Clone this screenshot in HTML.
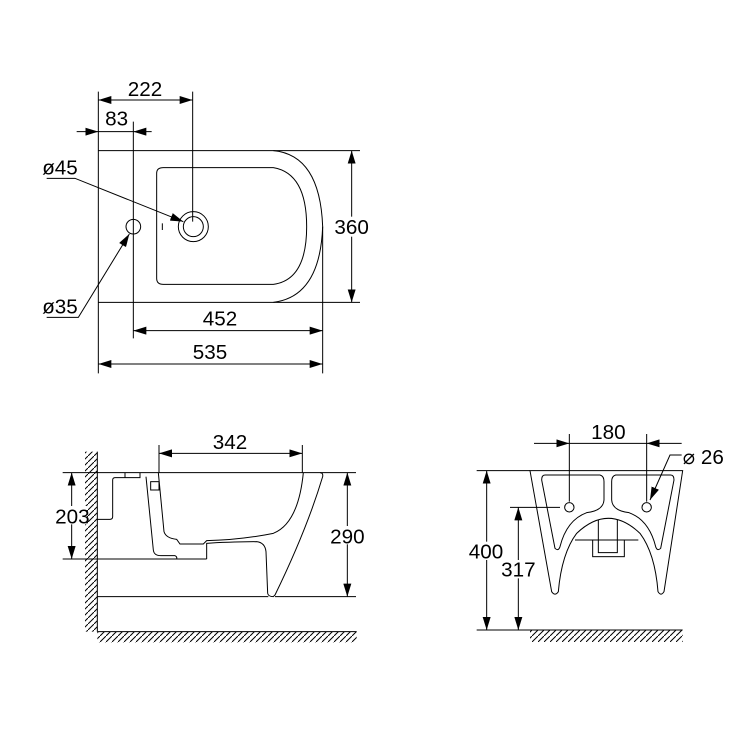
<!DOCTYPE html>
<html><head><meta charset="utf-8"><style>
html,body{margin:0;padding:0;background:#fff;}
svg{display:block}
text{font-family:"Liberation Sans Narrow","Liberation Sans",sans-serif;fill:#000;text-anchor:middle}
</style></head><body>
<svg width="750" height="750" viewBox="0 0 750 750" xmlns="http://www.w3.org/2000/svg">
<defs>
<marker id="a" viewBox="0 0 13 8" refX="13" refY="4" markerWidth="13" markerHeight="8" markerUnits="strokeWidth" orient="auto-start-reverse">
<path d="M0,0 L13,4 L0,8 z" fill="#000"/></marker>
<pattern id="hw" width="18" height="18" patternUnits="userSpaceOnUse">
<line x1="0" y1="18" x2="18" y2="0" stroke="#000" stroke-width="3"/></pattern>
</defs>

<!-- TOP VIEW -->
<g transform="translate(40,80) scale(0.33333)" fill="none" stroke="#000" stroke-width="3">
<path d="M700,212 Q840,225 848,440 Q840,650 700,667"/>
<line x1="175" y1="212" x2="960" y2="212"/>
<line x1="175" y1="667" x2="960" y2="667"/>
<line x1="175" y1="35" x2="175" y2="880"/>
<path d="M370,263 L700,263 Q800,280 800,440 Q800,600 700,613 L370,613 Q350,613 350,595 L350,280 Q350,263 370,263 Z"/>
<circle cx="460" cy="440" r="45"/>
<circle cx="460" cy="440" r="30"/>
<circle cx="280" cy="440" r="22"/>
<line x1="367" y1="430" x2="367" y2="450"/>
<line x1="458" y1="35" x2="458" y2="425"/>
<line x1="280" y1="125" x2="280" y2="775"/>
<line x1="848" y1="440" x2="848" y2="880"/>
<line x1="175" y1="60" x2="458" y2="60" marker-start="url(#a)" marker-end="url(#a)"/>
<line x1="110" y1="155" x2="175" y2="155" marker-end="url(#a)"/>
<line x1="175" y1="155" x2="280" y2="155"/>
<line x1="335" y1="155" x2="280" y2="155" marker-end="url(#a)"/>
<line x1="935" y1="212" x2="935" y2="667" marker-start="url(#a)" marker-end="url(#a)"/>
<line x1="280" y1="752" x2="848" y2="752" marker-start="url(#a)" marker-end="url(#a)"/>
<line x1="175" y1="852" x2="848" y2="852" marker-start="url(#a)" marker-end="url(#a)"/>
<path d="M20,295 L105,295 L430,425" marker-end="url(#a)"/>
<path d="M20,712 L115,712 L268,462" marker-end="url(#a)"/>
<rect x="890" y="410" width="90" height="60" fill="#fff" stroke="none"/>
<g stroke="none" fill="#000" font-size="62">
<text x="315" y="48">222</text>
<text x="230" y="137">83</text>
<text x="935" y="462">360</text>
<text x="60" y="284">ø45</text>
<text x="60" y="700">ø35</text>
<text x="540" y="737">452</text>
<text x="510" y="837">535</text>
</g>
</g>

<!-- SIDE VIEW -->
<g transform="translate(40,420) scale(0.33333)" fill="none" stroke="#000" stroke-width="3">
<rect x="135" y="95" width="37" height="540" fill="url(#hw)" stroke="none"/>
<rect x="172" y="635" width="778" height="32" fill="url(#hw)" stroke="none"/>
<line x1="172" y1="95" x2="172" y2="635"/>
<line x1="172" y1="635" x2="950" y2="635"/>
<line x1="68" y1="158" x2="948" y2="158"/>
<line x1="68" y1="417" x2="500" y2="417"/>
<line x1="172" y1="530" x2="685" y2="530"/>
<line x1="705" y1="530" x2="948" y2="530"/>
<path d="M172,298 L210,298 Q218,298 218,290 L218,180 Q218,173 226,173 L300,173 L300,158 M255,158 L255,173"/>
<path d="M318,170 L340,390 Q342,408 365,407 L405,407 Q412,410 410,417"/>
<path d="M355,158 L372,335 Q378,355 410,358 L420,372 L490,372 L500,362 Q600,360 700,340 Q775,310 790,158"/>
<rect x="332" y="185" width="25" height="25"/>
<path d="M500,417 L500,370 Q560,366 650,365 Q675,368 678,395 L683,520 Q685,530 700,530 L705,525 Q800,330 848,170 Q850,158 840,158"/>
<line x1="357" y1="75" x2="357" y2="158"/>
<line x1="787" y1="75" x2="787" y2="158"/>
<line x1="357" y1="100" x2="787" y2="100" marker-start="url(#a)" marker-end="url(#a)"/>
<line x1="95" y1="158" x2="95" y2="417" marker-start="url(#a)" marker-end="url(#a)"/>
<line x1="922" y1="158" x2="922" y2="530" marker-start="url(#a)" marker-end="url(#a)"/>
<rect x="52" y="258" width="88" height="55" fill="#fff" stroke="none"/>
<rect x="880" y="318" width="88" height="55" fill="#fff" stroke="none"/>
<g stroke="none" fill="#000" font-size="62">
<text x="570" y="87">342</text>
<text x="97" y="310">203</text>
<text x="922" y="370">290</text>
</g>
</g>

<!-- FRONT VIEW -->
<g transform="translate(460,420) scale(0.33333)" fill="none" stroke="#000" stroke-width="3">
<rect x="210" y="630" width="458" height="36" fill="url(#hw)" stroke="none"/>
<line x1="50" y1="630" x2="668" y2="630"/>
<line x1="50" y1="152" x2="210" y2="152"/>
<path d="M210,152 L668,152 L612,515 Q603,530 594,515 Q585,400 540,340 Q445,250 350,340 Q305,400 295,515 Q285,530 275,515 Z"/>
<path d="M255,165 L420,165 Q432,168 432,185 L432,240 Q430,272 380,278 Q320,300 300,380 Q295,395 285,385 L245,180 Q245,165 255,165 Z"/>
<path d="M632,165 L467,165 Q455,168 455,185 L455,240 Q457,272 507,278 Q567,300 587,380 Q592,395 602,385 L642,180 Q642,165 632,165 Z"/>
<line x1="345" y1="360" x2="535" y2="360"/>
<rect x="398" y="360" width="95" height="50"/>
<path d="M415,300 L415,398 L472,398 L472,300"/>
<circle cx="328" cy="262" r="14"/>
<circle cx="560" cy="262" r="14"/>
<line x1="80" y1="152" x2="80" y2="630" marker-start="url(#a)" marker-end="url(#a)"/>
<line x1="150" y1="262" x2="300" y2="262"/>
<line x1="175" y1="262" x2="175" y2="630" marker-start="url(#a)" marker-end="url(#a)"/>
<line x1="328" y1="42" x2="328" y2="245"/>
<line x1="560" y1="42" x2="560" y2="245"/>
<line x1="222" y1="70" x2="328" y2="70" marker-end="url(#a)"/>
<line x1="328" y1="70" x2="560" y2="70"/>
<line x1="665" y1="70" x2="560" y2="70" marker-end="url(#a)"/>
<path d="M665,105 L630,105 L570,240" marker-end="url(#a)"/>
<rect x="35" y="365" width="90" height="55" fill="#fff" stroke="none"/>
<rect x="130" y="420" width="90" height="55" fill="#fff" stroke="none"/>
<g stroke="none" fill="#000" font-size="62">
<text x="445" y="57">180</text>
<text x="78" y="415">400</text>
<text x="175" y="469">317</text>
<text x="730" y="132">⌀ 26</text>
</g>
</g>
</svg>
</body></html>
